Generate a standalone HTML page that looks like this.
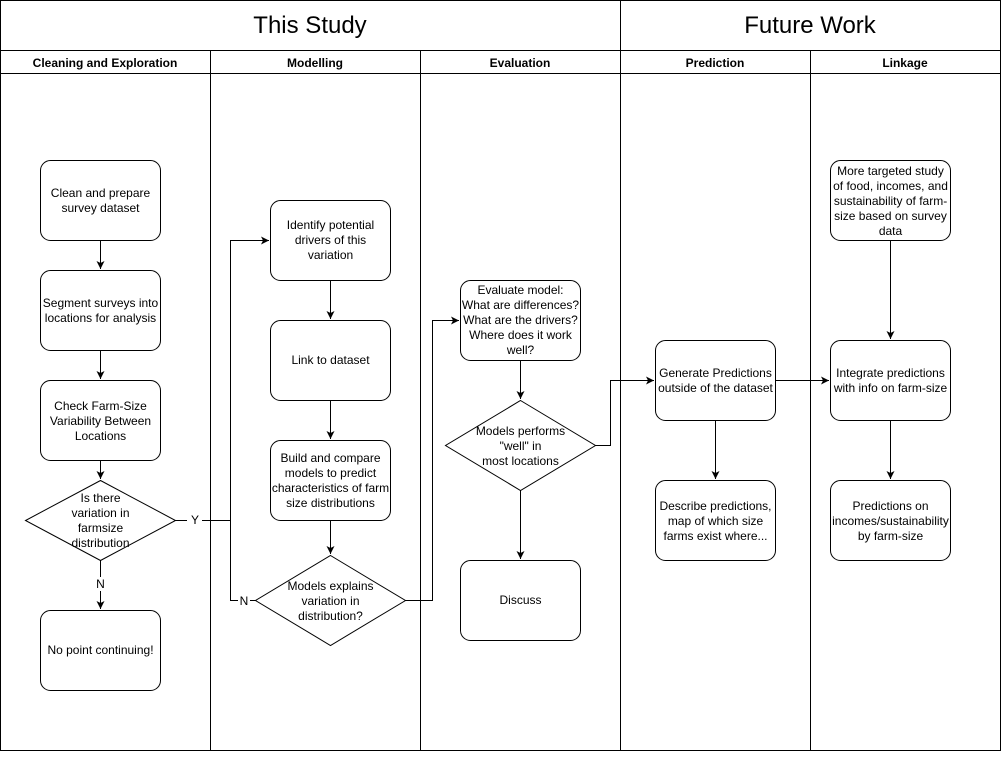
<!DOCTYPE html>
<html><head><style>
body{margin:0;background:#fff;}
svg text{font-family:"Liberation Sans",Helvetica,sans-serif;}
</style></head><body>
<svg width="1002" height="752" xmlns="http://www.w3.org/2000/svg">
<defs><marker id="a" markerWidth="10" markerHeight="10" refX="8" refY="5" orient="auto" markerUnits="userSpaceOnUse"><path d="M0,1 L8,5 L0,9 L2,5 z" fill="#000"/></marker></defs>
<g fill="none" stroke="#000" stroke-width="1">
<rect x="0.5" y="0.5" width="1000" height="750"/>
<line x1="0" y1="50.5" x2="1001" y2="50.5"/>
<line x1="0" y1="73.5" x2="1001" y2="73.5"/>
<line x1="620.5" y1="0" x2="620.5" y2="751"/>
<line x1="210.5" y1="50" x2="210.5" y2="751"/>
<line x1="420.5" y1="50" x2="420.5" y2="751"/>
<line x1="810.5" y1="50" x2="810.5" y2="751"/>
<!-- lane1 -->
<rect x="40.5" y="160.5" width="120" height="80" rx="10"/>
<rect x="40.5" y="270.5" width="120" height="80" rx="10"/>
<rect x="40.5" y="380.5" width="120" height="80" rx="10"/>
<polygon points="100.5,480.5 175.5,520.5 100.5,560.5 25.5,520.5"/>
<rect x="40.5" y="610.5" width="120" height="80" rx="10"/>
<line x1="100.5" y1="240" x2="100.5" y2="269" marker-end="url(#a)"/>
<line x1="100.5" y1="350" x2="100.5" y2="379" marker-end="url(#a)"/>
<line x1="100.5" y1="460" x2="100.5" y2="479" marker-end="url(#a)"/>
<line x1="100.5" y1="560" x2="100.5" y2="577"/>
<line x1="100.5" y1="591" x2="100.5" y2="609" marker-end="url(#a)"/>
<!-- lane2 -->
<rect x="270.5" y="200.5" width="120" height="80" rx="10"/>
<rect x="270.5" y="320.5" width="120" height="80" rx="10"/>
<rect x="270.5" y="440.5" width="120" height="80" rx="10"/>
<polygon points="330.5,555.5 405.5,600.5 330.5,645.5 255.5,600.5"/>
<line x1="330.5" y1="280" x2="330.5" y2="319" marker-end="url(#a)"/>
<line x1="330.5" y1="400" x2="330.5" y2="439" marker-end="url(#a)"/>
<line x1="330.5" y1="520" x2="330.5" y2="554" marker-end="url(#a)"/>
<polyline points="175.5,520.5 187,520.5"/>
<polyline points="202,520.5 230.5,520.5 230.5,240.5 269,240.5" marker-end="url(#a)"/>
<polyline points="255.5,600.5 250,600.5"/>
<polyline points="238,600.5 230.5,600.5 230.5,520.5"/>
<!-- lane3 -->
<rect x="460.5" y="280.5" width="120" height="80" rx="10"/>
<polygon points="520.5,400.5 595.5,445.5 520.5,490.5 445.5,445.5"/>
<rect x="460.5" y="560.5" width="120" height="80" rx="10"/>
<polyline points="405.5,600.5 432.5,600.5 432.5,320.5 459,320.5" marker-end="url(#a)"/>
<line x1="520.5" y1="360" x2="520.5" y2="399" marker-end="url(#a)"/>
<line x1="520.5" y1="490" x2="520.5" y2="559" marker-end="url(#a)"/>
<polyline points="595.5,445.5 610.5,445.5 610.5,380.5 654,380.5" marker-end="url(#a)"/>
<!-- lane4 -->
<rect x="655.5" y="340.5" width="120" height="80" rx="10"/>
<rect x="655.5" y="480.5" width="120" height="80" rx="10"/>
<line x1="715.5" y1="420" x2="715.5" y2="479" marker-end="url(#a)"/>
<line x1="775.5" y1="380.5" x2="829" y2="380.5" marker-end="url(#a)"/>
<!-- lane5 -->
<rect x="830.5" y="160.5" width="120" height="80" rx="10"/>
<rect x="830.5" y="340.5" width="120" height="80" rx="10"/>
<rect x="830.5" y="480.5" width="120" height="80" rx="10"/>
<line x1="890.5" y1="240" x2="890.5" y2="339" marker-end="url(#a)"/>
<line x1="890.5" y1="420" x2="890.5" y2="479" marker-end="url(#a)"/>
</g>
<g font-size="24" text-anchor="middle">
<text x="310" y="33">This Study</text>
<text x="810" y="33">Future Work</text>
</g>
<g font-size="12" font-weight="bold" text-anchor="middle">
<text x="105" y="67">Cleaning and Exploration</text>
<text x="315" y="67">Modelling</text>
<text x="520" y="67">Evaluation</text>
<text x="715" y="67">Prediction</text>
<text x="905" y="67">Linkage</text>
</g>
<g font-size="12" text-anchor="middle">
<text x="100.5" y="197">Clean and prepare</text><text x="100.5" y="212">survey dataset</text>
<text x="100.5" y="307">Segment surveys into</text><text x="100.5" y="322">locations for analysis</text>
<text x="100.5" y="410">Check Farm-Size</text><text x="100.5" y="425">Variability Between</text><text x="100.5" y="440">Locations</text>
<text x="100.5" y="502">Is there</text><text x="100.5" y="517">variation in</text><text x="100.5" y="532">farmsize</text><text x="100.5" y="547">distribution</text>
<text x="100.5" y="588">N</text>
<text x="195" y="524">Y</text>
<text x="244" y="605">N</text>
<text x="100.5" y="654">No point continuing!</text>
<text x="330.5" y="229">Identify potential</text><text x="330.5" y="244">drivers of this</text><text x="330.5" y="259">variation</text>
<text x="330.5" y="364">Link to dataset</text>
<text x="330.5" y="462">Build and compare</text><text x="330.5" y="477">models to predict</text><text x="330.5" y="492">characteristics of farm</text><text x="330.5" y="507">size distributions</text>
<text x="330.5" y="590">Models explains</text><text x="330.5" y="605">variation in</text><text x="330.5" y="620">distribution?</text>
<text x="520.5" y="294">Evaluate model:</text><text x="520.5" y="309">What are differences?</text><text x="520.5" y="324">What are the drivers?</text><text x="520.5" y="339">Where does it work</text><text x="520.5" y="354">well?</text>
<text x="520.5" y="435">Models performs</text><text x="520.5" y="450">"well" in</text><text x="520.5" y="465">most locations</text>
<text x="520.5" y="604">Discuss</text>
<text x="715.5" y="377">Generate Predictions</text><text x="715.5" y="392">outside of the dataset</text>
<text x="715.5" y="510">Describe predictions,</text><text x="715.5" y="525">map of which size</text><text x="715.5" y="540">farms exist where...</text>
<text x="890.5" y="175">More targeted study</text><text x="890.5" y="190">of food, incomes, and</text><text x="890.5" y="205">sustainability of farm-</text><text x="890.5" y="220">size based on survey</text><text x="890.5" y="235">data</text>
<text x="890.5" y="377">Integrate predictions</text><text x="890.5" y="392">with info on farm-size</text>
<text x="890.5" y="510">Predictions on</text><text x="890.5" y="525">incomes/sustainability</text><text x="890.5" y="540">by farm-size</text>
</g>
</svg>
</body></html>
